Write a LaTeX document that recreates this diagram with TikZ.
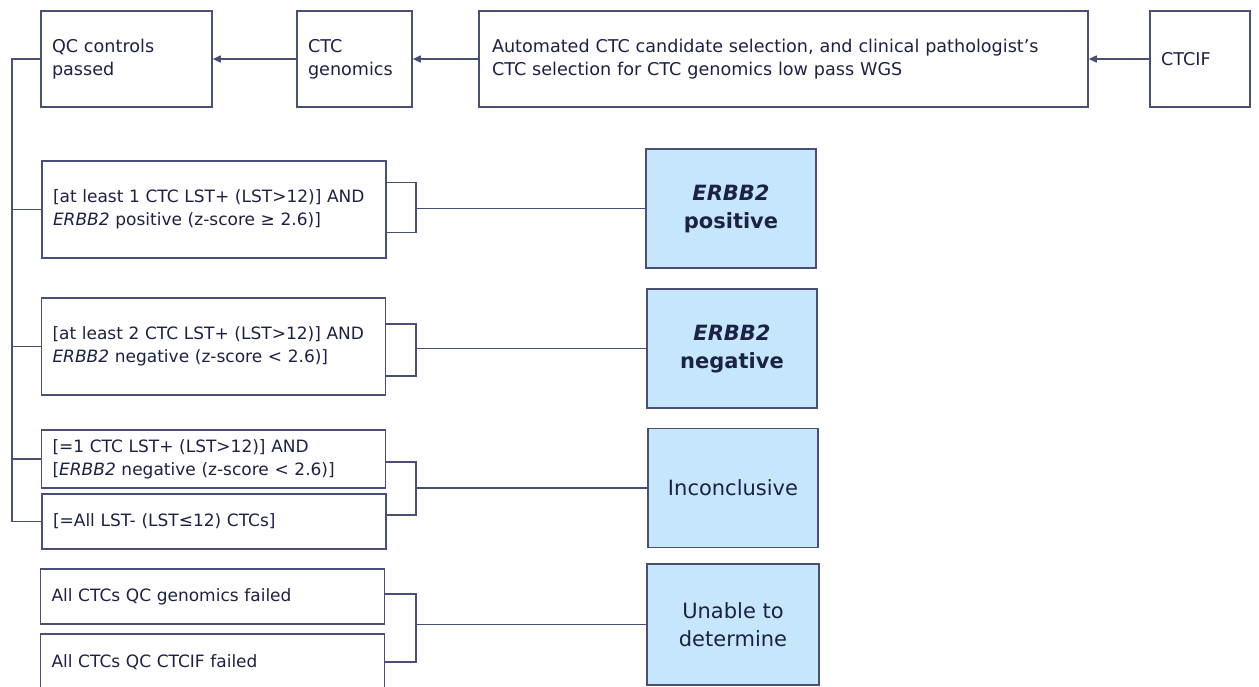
\documentclass[tikz,border=0pt]{standalone}
\usepackage{fontspec}
\setmainfont{DejaVu Sans}
\usetikzlibrary{arrows.meta}

\definecolor{linecol}{HTML}{4A4F78}
\definecolor{textcol}{HTML}{1C2146}
\definecolor{resfill}{HTML}{C6E7FB}

\tikzset{
  box/.style={draw=linecol, line width=1.5pt, text=textcol, inner xsep=11pt,
    align=left, font=\fontsize{17.6}{23}\selectfont},
  cond/.style={box, text width=322pt, minimum height=#1,
    font=\fontsize{17}{23}\selectfont},
  result/.style={draw=linecol, line width=1.5pt, fill=resfill, text=textcol,
    minimum width=170pt, minimum height=119pt, align=center,
    font=\fontsize{21}{28}\selectfont},
  link/.style={draw=linecol, line width=1.5pt},
  arr/.style={link, -{Triangle[length=8pt,width=7pt]}}
}

\begin{document}
\begin{tikzpicture}[x=1pt, y=-1pt]
\useasboundingbox (0,0) rectangle (1259,686);
\clip (0,0) rectangle (1259,686);

% top row
\node[box, text width=149pt, minimum height=96pt] (qc) at (126.5,59) {QC controls\\passed};
\node[box, text width=93pt, minimum height=96pt] (gen) at (354.5,59) {CTC\\genomics};
\node[box, inner xsep=13pt, text width=583pt, minimum height=96pt] (auto) at (783.5,59)
  {Automated CTC candidate selection, and clinical pathologist’s\\CTC selection for CTC genomics low pass WGS};
\node[box, text width=78pt, minimum height=96pt] (ctcif) at (1200,59) {CTCIF};

\draw[arr] (ctcif) -- (auto);
\draw[arr] (auto) -- (gen);
\draw[arr] (gen) -- (qc);

% conditions
\node[cond=97pt] (c1) at (214,209.5) {[at least 1 CTC LST+ (LST>12)] AND\\\textit{ERBB2} positive (z-score ≥ 2.6)]};
\node[cond=97pt] (c2) at (213.5,346.5) {[at least 2 CTC LST+ (LST>12)] AND\\\textit{ERBB2} negative (z-score < 2.6)]};
\node[cond=58pt] (c3) at (213.5,459) {[=1 CTC LST+ (LST>12)] AND\\{[}\textit{ERBB2} negative (z-score < 2.6)]};
\node[cond=55pt] (c4) at (214,521.5) {[=All LST- (LST≤12) CTCs]};
\node[cond=55pt] (c5) at (212.5,596.5) {All CTCs QC genomics failed};
\node[cond=56pt] (c6) at (212.5,662) {All CTCs QC CTCIF failed};

% outcomes
\node[result] (r1) at (731,208.5) {\textbf{\textit{ERBB2}}\\\textbf{positive}};
\node[result] (r2) at (732,348.5) {\textbf{\textit{ERBB2}}\\\textbf{negative}};
\node[result] (r3) at (733,488) {Inconclusive};
\node[result, minimum width=172pt, minimum height=121pt] (r4) at (733,624.5) {Unable to\\determine};

% trunk on the left
\coordinate (tk) at (12,0);
\draw[link] (qc.west) -- (qc.west -| tk) |- (c4.west);
\foreach \n in {c1,c2,c3}
  \draw[link] (\n.west) -- (\n.west -| tk);

% brackets
\coordinate (bx) at (416,0);
\coordinate (j1) at (r1.west -| bx);
\coordinate (j2) at (r2.west -| bx);
\coordinate (j3) at (r3.west -| bx);
\coordinate (j4) at (r4.west -| bx);
\draw[link] ([yshift=27pt]c1.east) -| (j1) |- ([yshift=-23pt]c1.east);
\draw[link] ([yshift=22.5pt]c2.east) -| (j2) |- ([yshift=-29.5pt]c2.east);
\draw[link] ([yshift=-3pt]c3.east) -| (j3) |- ([yshift=6.5pt]c4.east);
\draw[link] ([yshift=2.5pt]c5.east) -| (j4) |- (c6.east);
\foreach \i in {1,2,3,4}
  \draw[link] (j\i) -- (r\i.west);
\end{tikzpicture}
\end{document}
